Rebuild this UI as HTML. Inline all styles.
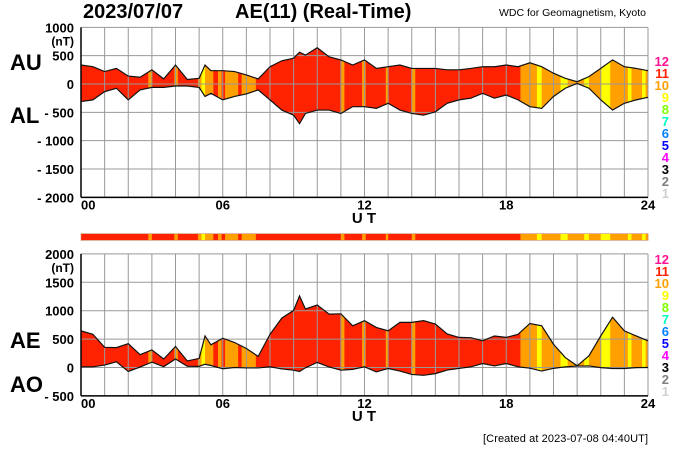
<!DOCTYPE html>
<html><head><meta charset="utf-8"><style>
body{margin:0;background:#fff;}
svg{display:block;font-family:"Liberation Sans",sans-serif;}
</style></head><body>
<svg id="c" width="700" height="450" viewBox="0 0 700 450"></svg>
<script>
const hours=[0,0.5,1,1.5,2,2.5,3,3.5,4,4.5,5,5.25,5.5,6,6.5,7,7.5,8,8.5,9,9.25,9.5,10,10.5,11,11.5,12,12.5,13,13.5,14,14.5,15,15.5,16,16.5,17,17.5,18,18.5,19,19.5,20,20.5,21,21.5,22,22.5,23,23.5,24];
const au=[335,305,220,275,140,120,250,90,335,80,100,335,235,235,220,160,90,305,410,455,560,510,640,480,425,335,425,275,305,335,275,275,275,250,250,275,305,305,335,305,375,305,190,100,40,130,275,425,305,275,235];
const al=[-310,-280,-135,-75,-280,-105,-60,-60,-35,-35,-60,-220,-165,-280,-220,-175,-105,-280,-460,-550,-700,-520,-460,-460,-520,-400,-400,-430,-340,-460,-520,-550,-490,-340,-280,-250,-165,-250,-195,-280,-400,-430,-220,-75,10,-75,-280,-460,-340,-280,-235];
// station-count segments: start hour, end hour, level
const segStart=[0,2.85,3.0,3.95,4.1,4.95,5.1,5.25,5.6,5.8,5.95,6.1,6.65,6.8,7.4,7.6,11.0,11.15,11.9,12.05,12.9,13.0,14.0,14.15,18.6,19.3,19.5,20.3,20.6,21.3,21.5,22.0,22.4,23.15,23.3,23.75,23.9];
const segEnd=[2.85,3.0,3.95,4.1,4.95,5.1,5.25,5.6,5.8,5.95,6.1,6.65,6.8,7.4,7.6,11.0,11.15,11.9,12.05,12.9,13.0,14.0,14.15,18.6,19.3,19.5,20.3,20.6,21.3,21.5,22.0,22.4,23.15,23.3,23.75,23.9,24];
const segLevel=[11,10,11,10,11,10,9,10,11,10,11,10,11,10,11,11,10,11,10,11,10,11,10,11,10,9,10,9,10,9,10,9,10,9,10,9,10];
const topTicks=[1000,500,0,-500,-1000,-1500,-2000];
const botTicks=[2000,1500,1000,500,0,-500];
const xTickHours=[0,6,12,18,24];
const legendNums=[12,11,10,9,8,7,6,5,4,3,2,1];
const legendCols=['#ff1493','#ff2000','#ffa000','#ffff00','#80ff00','#00ffc0','#0080ff','#0000ff','#ff00ff','#000000','#808080','#d0d0d0'];
const levelColor={9:'#ffff00',10:'#ffa000',11:'#ff2200',12:'#ff1493'};

const ae=au.map((v,i)=>v-al[i]);
const ao=au.map((v,i)=>(v+al[i])/2);

const NS='http://www.w3.org/2000/svg';
const svg=document.getElementById('c');
const X0=81,X1=648;
const x=h=>X0+(X1-X0)*h/24;
const yTop=v=>84+(0-v)*(170/3000);
const yBot=v=>367.5+(0-v)*(142/2500);
function mk(tag,attrs,parent){const e=document.createElementNS(NS,tag);for(const k in attrs)e.setAttribute(k,attrs[k]);(parent||svg).appendChild(e);return e;}
function txt(s,attrs,parent){const t=mk('text',attrs,parent);t.textContent=s;return t;}

function panel(id,upper,lower,yf,ticks,yMin,yMax,labelA,labelB,labAy,labBy,nT,utY){
  const g=mk('g',{});
  
  
  const yt=yf(yMax),yb=yf(yMin);
  const pts=hours.map((h,i)=>x(h)+','+yf(upper[i])).concat(hours.slice().reverse().map((h,j)=>{const i=hours.length-1-j;return x(h)+','+yf(lower[i]);})).join(' ');
  const cp=mk('clipPath',{id:id+'-clip'},g);
  mk('polygon',{points:pts},cp);
  const fg=mk('g',{'clip-path':'url(#'+id+'-clip)'},g);
  segStart.forEach((s,i)=>{
    const r=mk('rect',{x:x(s),y:yt,width:x(segEnd[i])-x(s)+0.3,height:yb-yt,fill:levelColor[segLevel[i]]},fg);
    
    
  });
  for(let h=0;h<=24;h++){mk('line',{x1:x(h),x2:x(h),y1:yt,y2:yb,stroke:'#999','stroke-width':1},g);}
  ticks.forEach(v=>{mk('line',{x1:X0,x2:X1,y1:yf(v),y2:yf(v),stroke:'#999','stroke-width':1},g);});
  const l1=mk('polyline',{points:hours.map((h,i)=>x(h)+','+yf(upper[i])).join(' '),fill:'none',stroke:'#111','stroke-width':1.2},g);
  
  
  const l2=mk('polyline',{points:hours.map((h,i)=>x(h)+','+yf(lower[i])).join(' '),fill:'none',stroke:'#111','stroke-width':1.2},g);
  
  
  mk('line',{x1:X0,x2:X0,y1:yt,y2:yb,stroke:'#000','stroke-width':1.5},g);
  mk('line',{x1:X0,x2:X1,y1:yb,y2:yb,stroke:'#000','stroke-width':1.5},g);
  ticks.forEach(v=>{
    const s=v<0?'- '+(-v):String(v);
    const t=txt(s,{x:74,y:yf(v)+5,'text-anchor':'end','font-size':13,'font-weight':'bold'},g);
    
    
  });
  txt('(nT)',{x:74,y:yf(yMax)+18,'text-anchor':'end','font-size':12,'font-weight':'bold'},g);
  xTickHours.forEach(h=>{
    const t=txt(String(h).padStart(2,'0'),{x:x(h),y:yb+12,'text-anchor':h===0?'start':'middle','font-size':13,'font-weight':'bold'},g);
    
    
  });
  const ut=txt('U T',{x:364,y:utY,'text-anchor':'middle','font-size':15,'font-weight':'bold'},g);
  
  
  const a=txt(labelA,{x:10,y:labAy,'font-size':22,'font-weight':'bold'},g);
  
  
  const b=txt(labelB,{x:10,y:labBy,'font-size':22,'font-weight':'bold'},g);
  
  
  legendNums.forEach((n,i)=>{
    const t=txt(String(n),{x:669,y:nT+i*12,'text-anchor':'end','font-size':13,'font-weight':'bold',fill:legendCols[i]},g);
    
    
  });
}
panel('top',au,al,yTop,topTicks,-2000,1000,'AU','AL',70,123,66,223);
panel('bottom',ae,ao,yBot,botTicks,-500,2000,'AE','AO',348,392,264,421);

const cb=mk('g',{});


segStart.forEach((s,i)=>{mk('rect',{x:x(s),y:234,width:x(segEnd[i])-x(s)+0.3,height:6,fill:levelColor[segLevel[i]]},cb);});
mk('rect',{x:X0,y:233.5,width:X1-X0,height:7,fill:'none',stroke:'#c86','stroke-width':0.6},cb);

const t1=txt('2023/07/07',{x:83,y:18,'font-size':20,'font-weight':'bold'});


const t2=txt('AE(11) (Real-Time)',{x:235,y:18,'font-size':20,'font-weight':'bold'});


const t3=txt('WDC for Geomagnetism, Kyoto',{x:646,y:16,'text-anchor':'end','font-size':10.5});


const t4=txt('[Created at 2023-07-08 04:40UT]',{x:648,y:442,'text-anchor':'end','font-size':11,'textLength':165});


</script>
</body></html>
